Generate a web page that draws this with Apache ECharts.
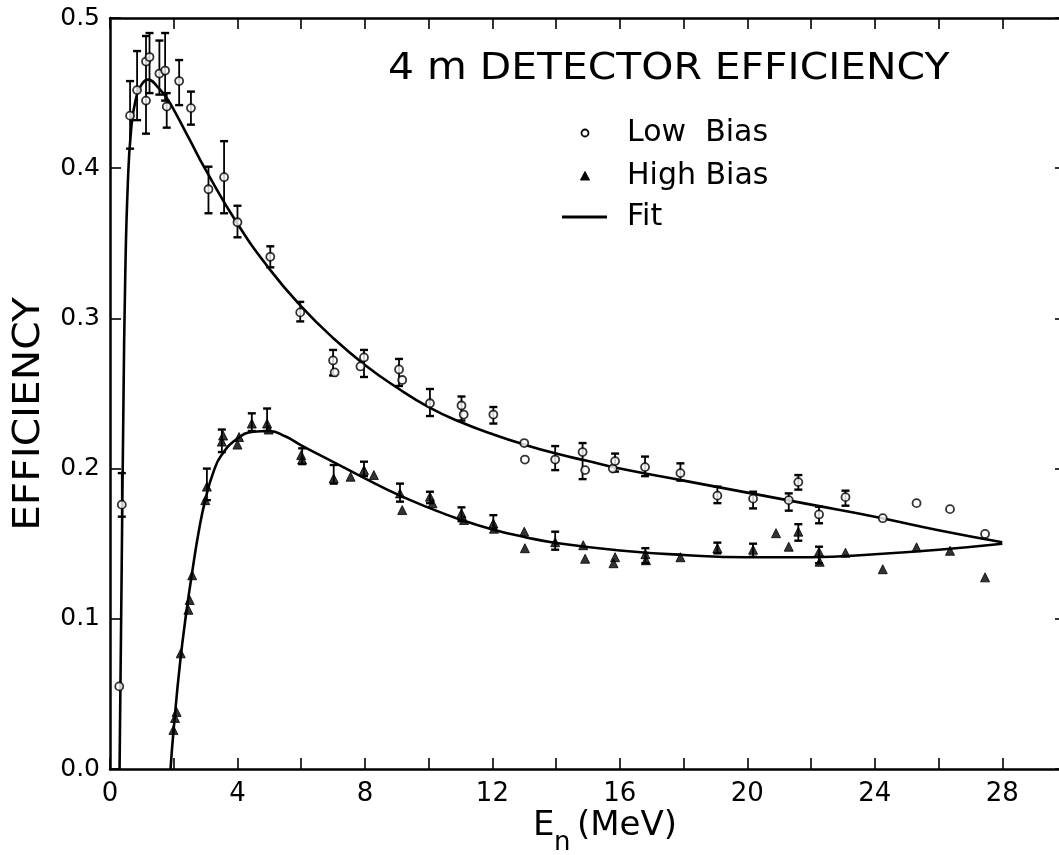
<!DOCTYPE html>
<html>
<head>
<meta charset="utf-8">
<script src="https://cdn.jsdelivr.net/npm/echarts@6/dist/echarts.min.js"></script>
<style>
  html, body { margin: 0; padding: 0; background: #fff; }
  #chart { width: 1059px; height: 855px; }
</style>
</head>
<body>
<div id="chart"></div>
<script>
// Neutron detection efficiency of the 4 m detector versus neutron energy.

// Low-bias measurements: [E (MeV), efficiency]
const lowBiasPoints = [
  [0.29, 0.055], [0.37, 0.176],
  [0.63, 0.435], [0.85, 0.452], [1.13, 0.471], [1.13, 0.445], [1.24, 0.474],
  [1.55, 0.463], [1.73, 0.465], [1.78, 0.441], [2.17, 0.458], [2.54, 0.440],
  [3.09, 0.386], [3.58, 0.394], [4.0, 0.364], [5.03, 0.341], [5.97, 0.304],
  [7.0, 0.272], [7.05, 0.264], [7.86, 0.268], [7.97, 0.274], [9.07, 0.266],
  [9.17, 0.259], [10.04, 0.2435], [11.03, 0.242], [11.1, 0.236], [12.03, 0.236],
  [13.0, 0.217], [13.02, 0.206], [13.97, 0.206], [14.83, 0.211], [14.91, 0.199],
  [15.78, 0.200], [15.85, 0.205], [16.79, 0.201], [17.9, 0.197], [19.06, 0.182],
  [20.18, 0.180], [21.3, 0.179], [21.6, 0.191], [22.25, 0.1695], [23.08, 0.181],
  [24.25, 0.167], [25.31, 0.177], [26.36, 0.173], [27.46, 0.1565]
];

// Low-bias error bars: [E (MeV), lower, upper]
const lowBiasErrors = [
  [0.37, 0.168, 0.197], [0.63, 0.413, 0.458], [0.85, 0.432, 0.478],
  [1.13, 0.423, 0.488], [1.24, 0.450, 0.490], [1.55, 0.449, 0.485],
  [1.73, 0.445, 0.490], [1.78, 0.427, 0.450], [2.17, 0.442, 0.472],
  [2.54, 0.429, 0.451], [3.09, 0.370, 0.401], [3.58, 0.370, 0.418],
  [4.0, 0.354, 0.375], [5.03, 0.334, 0.348], [5.97, 0.298, 0.311],
  [7.0, 0.262, 0.279], [7.97, 0.261, 0.279], [9.07, 0.255, 0.273],
  [10.04, 0.235, 0.253], [11.03, 0.232, 0.248], [12.03, 0.230, 0.241],
  [13.97, 0.199, 0.215], [14.83, 0.193, 0.217], [15.85, 0.198, 0.210],
  [16.79, 0.195, 0.208], [17.9, 0.192, 0.2035], [19.06, 0.177, 0.188],
  [20.18, 0.1735, 0.1846], [21.3, 0.172, 0.1835], [21.6, 0.186, 0.1957],
  [22.25, 0.1636, 0.1746], [23.08, 0.1753, 0.1853]
];

// High-bias measurements: [E (MeV), efficiency]
const highBiasPoints = [
  [1.99, 0.026], [2.04, 0.034], [2.09, 0.038], [2.22, 0.077], [2.46, 0.106],
  [2.5, 0.1125], [2.58, 0.129], [2.99, 0.179], [3.04, 0.188], [3.51, 0.218],
  [3.55, 0.222], [4.0, 0.216], [4.05, 0.221], [4.45, 0.230], [4.93, 0.230],
  [4.98, 0.226], [6.0, 0.209], [6.03, 0.206], [7.02, 0.1935], [7.55, 0.1946],
  [7.97, 0.199], [8.28, 0.1957], [9.1, 0.1835], [9.17, 0.1724], [10.04, 0.1813],
  [10.12, 0.1769], [11.03, 0.1702], [11.11, 0.1658], [12.03, 0.1636], [12.05, 0.160],
  [13.0, 0.158], [13.02, 0.147], [13.97, 0.151], [14.85, 0.149], [14.91, 0.140],
  [15.8, 0.137], [15.85, 0.141], [16.8, 0.143], [16.82, 0.139], [17.9, 0.141],
  [19.06, 0.147], [20.18, 0.146], [20.9, 0.157], [21.3, 0.148], [21.6, 0.158],
  [22.25, 0.1447], [22.27, 0.138], [23.08, 0.144], [24.25, 0.133], [25.31, 0.1476],
  [26.36, 0.1453], [27.46, 0.1276]
];

// High-bias error bars: [E (MeV), lower, upper]
const highBiasErrors = [
  [3.04, 0.179, 0.200], [3.51, 0.211, 0.226], [4.45, 0.225, 0.2368],
  [4.93, 0.225, 0.240], [6.03, 0.203, 0.2135], [7.02, 0.190, 0.2024],
  [7.97, 0.195, 0.2046], [9.1, 0.178, 0.190], [10.04, 0.177, 0.1846],
  [11.03, 0.165, 0.1742], [12.03, 0.160, 0.169], [13.97, 0.146, 0.158],
  [16.8, 0.137, 0.147], [19.06, 0.1436, 0.1507], [20.18, 0.1413, 0.150],
  [21.6, 0.152, 0.163], [22.25, 0.137, 0.148]
];

// Fitted efficiency curves: [E (MeV), efficiency]
const lowBiasFit = [
  [0.30, 0.0], [0.36, 0.12], [0.42, 0.24], [0.48, 0.33], [0.56, 0.39],
  [0.66, 0.425], [0.80, 0.445], [1.0, 0.456], [1.2, 0.459], [1.5, 0.454],
  [1.8, 0.446], [2.0, 0.439], [2.5, 0.419], [3.0, 0.399], [4.0, 0.363],
  [5.0, 0.333], [6.0, 0.308], [7.0, 0.287], [8.0, 0.269], [9.0, 0.254],
  [10.0, 0.241], [11.0, 0.231], [12.0, 0.223], [13.0, 0.216], [14.0, 0.210],
  [15.0, 0.205], [16.0, 0.200], [18.0, 0.192], [20.0, 0.184], [22.0, 0.176],
  [24.0, 0.168], [26.0, 0.159], [28.0, 0.151]
];
const highBiasFit = [
  [1.90, 0.0], [2.0, 0.027], [2.2, 0.071], [2.4, 0.105], [2.6, 0.134],
  [2.8, 0.160], [3.0, 0.180], [3.25, 0.198], [3.5, 0.209], [4.0, 0.220],
  [4.5, 0.2245], [5.0, 0.2250], [5.5, 0.2215], [6.0, 0.2155], [7.0, 0.2045],
  [8.0, 0.1935], [9.0, 0.1830], [10.0, 0.1740], [11.0, 0.1660], [12.0, 0.1595],
  [13.0, 0.1545], [14.0, 0.1505], [16.0, 0.1455], [18.0, 0.1425], [20.0, 0.1410],
  [22.0, 0.1410], [24.0, 0.1430], [26.0, 0.1460], [28.0, 0.1500]
];

// Axis ranges and labelled ticks
const xRange = [0, 30];
const xTickStep = 2;
const xLabelValues = [0, 4, 8, 12, 16, 20, 24, 28];
const yRange = [0, 0.5];
const yTickStep = 0.1;

const FONT = 'DejaVu Sans';
const INK = '#000';

const chart = echarts.init(document.getElementById('chart'), null, { renderer: 'canvas' });

function errorBarRenderer(params, api) {
  const x = api.value(0);
  const top = api.coord([x, api.value(2)]);
  const bot = api.coord([x, api.value(1)]);
  const cap = 4;
  const capStyle = { stroke: INK, lineWidth: 2.4 };
  return {
    type: 'group',
    children: [
      { type: 'line', shape: { x1: top[0], y1: top[1], x2: bot[0], y2: bot[1] }, style: { stroke: INK, lineWidth: 1.8 } },
      { type: 'line', shape: { x1: top[0] - cap, y1: top[1], x2: top[0] + cap, y2: top[1] }, style: capStyle },
      { type: 'line', shape: { x1: bot[0] - cap, y1: bot[1], x2: bot[0] + cap, y2: bot[1] }, style: capStyle }
    ]
  };
}

const axisCommon = {
  type: 'value',
  splitLine: { show: false },
  axisLine: { show: true, onZero: false, lineStyle: { color: INK, width: 2.5 } },
  axisTick: { show: true, inside: true, length: 11, lineStyle: { color: INK, width: 1.6 } }
};

function label(text, x, y, size, extra) {
  return Object.assign({
    type: 'text', x: x, y: y, silent: true,
    style: { text: text, fill: INK, font: size + 'px "DejaVu Sans"',
      align: 'left', verticalAlign: 'middle', textAlign: 'left', textVerticalAlign: 'middle' }
  }, extra || {});
}

const option = {
  backgroundColor: '#fff',
  animation: false,
  grid: { left: 110, top: 18, width: 956, height: 751, containLabel: false, outerBoundsMode: 'none' },
  xAxis: [
    Object.assign({}, axisCommon, {
      position: 'bottom', min: xRange[0], max: xRange[1], interval: xTickStep,
      axisLabel: {
        show: true, margin: 12, color: INK, fontFamily: FONT, fontSize: 26,
        formatter: v => (xLabelValues.indexOf(v) >= 0 ? String(v) : '')
      }
    }),
    Object.assign({}, axisCommon, {
      position: 'top', min: xRange[0], max: xRange[1], interval: xTickStep,
      axisLabel: { show: false }
    })
  ],
  yAxis: [
    Object.assign({}, axisCommon, {
      position: 'left', min: yRange[0], max: yRange[1], interval: yTickStep,
      axisLabel: {
        show: true, margin: 10, color: INK, fontFamily: FONT, fontSize: 25,
        formatter: v => v.toFixed(1)
      }
    }),
    Object.assign({}, axisCommon, {
      position: 'right', min: yRange[0], max: yRange[1], interval: yTickStep,
      axisLabel: { show: false }
    })
  ],
  series: [
    {
      name: 'Fit low', type: 'line', data: lowBiasFit, showSymbol: false,
      smooth: 0.5,
      lineStyle: { color: INK, width: 2.6 }, z: 2
    },
    {
      name: 'Fit high', type: 'line', data: highBiasFit, showSymbol: false,
      smooth: 0.5,
      lineStyle: { color: INK, width: 2.6 }, z: 2
    },
    {
      name: 'Low Bias errors', type: 'custom', data: lowBiasErrors,
      renderItem: errorBarRenderer, encode: { x: 0, y: [1, 2] }, z: 3
    },
    {
      name: 'High Bias errors', type: 'custom', data: highBiasErrors,
      renderItem: errorBarRenderer, encode: { x: 0, y: [1, 2] }, z: 3
    },
    {
      name: 'High Bias', type: 'scatter', data: highBiasPoints,
      symbol: 'triangle', symbolSize: 9,
      itemStyle: { color: INK, borderColor: INK, borderWidth: 1 }, z: 4
    },
    {
      name: 'Low Bias', type: 'scatter', data: lowBiasPoints,
      symbol: 'circle', symbolSize: 8,
      itemStyle: { color: '#fff', borderColor: INK, borderWidth: 1.8 }, z: 5
    }
  ],
  graphic: [
    label('4 m DETECTOR EFFICIENCY', 388, 69, 38, { scaleX: 1.075 }),
    { type: 'circle', shape: { cx: 585, cy: 133, r: 3.5 }, style: { fill: '#fff', stroke: INK, lineWidth: 1.8 } },
    { type: 'polygon', shape: { points: [[585, 171.5], [580.5, 180], [589.5, 180]] }, style: { fill: INK, stroke: INK, lineWidth: 1 } },
    { type: 'line', shape: { x1: 562, y1: 217, x2: 607, y2: 217 }, style: { stroke: INK, lineWidth: 3 } },
    label('Low  Bias', 627, 133, 30),
    label('High Bias', 627, 176, 30),
    label('Fit', 627, 217, 30),
    {
      type: 'text', x: 29, y: 414, rotation: Math.PI / 2, scaleX: 1.1, silent: true,
      style: { text: 'EFFICIENCY', fill: INK, font: '37px "DejaVu Sans"',
        align: 'center', verticalAlign: 'middle', textAlign: 'center', textVerticalAlign: 'middle' }
    },
    label('E', 533, 826, 34),
    label('n', 554, 843, 26),
    label('(MeV)', 577, 826, 34)
  ]
};

chart.setOption(option);
</script>
</body>
</html>
